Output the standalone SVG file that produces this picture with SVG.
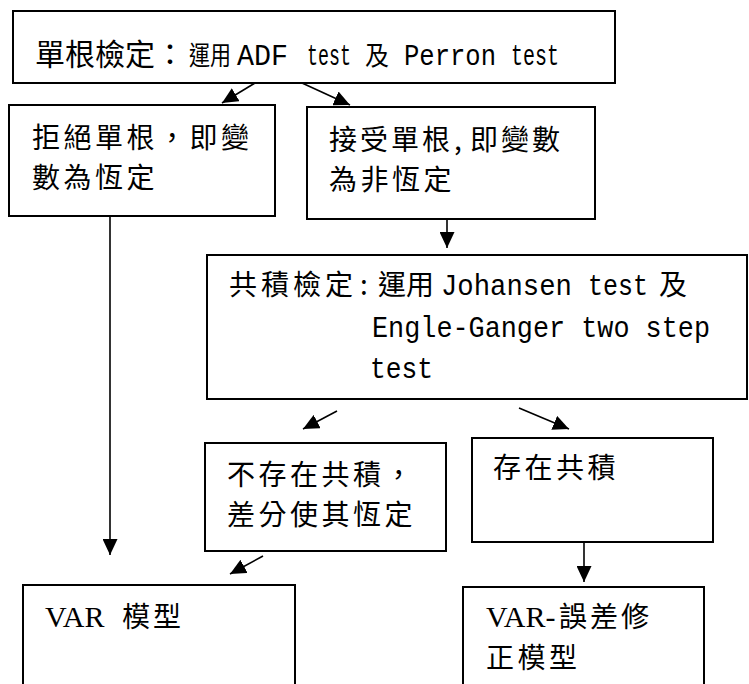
<svg xmlns="http://www.w3.org/2000/svg" width="749" height="684" viewBox="0 0 749 684">
<style>
.box{fill:#fff;stroke:#000;stroke-width:2}
.con line{stroke:#000;stroke-width:1.6}
.cjk{font-family:"Noto Sans CJK TC","Noto Sans CJK SC",sans-serif;font-size:28px;fill:#000}
.lbl{letter-spacing:3.5px}
.mono{font-family:"Liberation Mono","DejaVu Sans Mono",monospace;font-size:29px;fill:#000}
.ser{font-family:"Liberation Serif","Noto Sans CJK TC",serif;font-size:30px;fill:#000}
</style>
<defs>
<marker id="ah" viewBox="0 0 16 15" refX="16" refY="7.5" markerWidth="16" markerHeight="15" markerUnits="userSpaceOnUse" orient="auto">
<path d="M0,0 L16,7.5 L0,15 z" fill="#000"/>
</marker>
</defs>
<g id="n-unitroot">
<rect class="box" x="13" y="11" width="602" height="72"/>
<text class="cjk" y="65"><tspan x="35" font-size="30" textLength="150" lengthAdjust="spacing">單根檢定：</tspan><tspan x="189" font-size="26" textLength="42" lengthAdjust="spacingAndGlyphs">運用</tspan><tspan class="mono" x="237" textLength="51" lengthAdjust="spacingAndGlyphs">ADF</tspan><tspan class="mono" x="307" textLength="44" lengthAdjust="spacingAndGlyphs">test</tspan><tspan x="365" font-size="26" textLength="24" lengthAdjust="spacingAndGlyphs">及</tspan><tspan class="mono" x="404" textLength="92" lengthAdjust="spacingAndGlyphs">Perron</tspan><tspan class="mono" x="511" textLength="48" lengthAdjust="spacingAndGlyphs">test</tspan></text>
</g>
<g id="n-reject">
<rect class="box" x="9" y="105" width="266" height="111"/>
<text class="cjk lbl" x="32" y="148">拒絕單根，即變</text>
<text class="cjk lbl" x="32" y="188">數為恆定</text>
</g>
<g id="n-accept">
<rect class="box" x="307" y="107" width="288" height="112"/>
<text class="cjk" y="150"><tspan x="329" letter-spacing="3">接受單根</tspan><tspan x="454">,</tspan><tspan x="470" letter-spacing="3">即變數</tspan></text>
<text class="cjk lbl" x="329" y="190">為非恆定</text>
</g>
<g id="n-coint">
<rect class="box" x="207" y="255" width="540" height="144"/>
<text class="cjk" y="295"><tspan x="229" textLength="124" lengthAdjust="spacing">共積檢定</tspan><tspan x="360">:</tspan><tspan x="378">運用</tspan><tspan class="mono" x="441" textLength="131" lengthAdjust="spacingAndGlyphs">Johansen</tspan><tspan class="mono" x="588" textLength="60" lengthAdjust="spacingAndGlyphs">test</tspan><tspan x="659">及</tspan></text>
<text class="mono" x="372" y="337" textLength="338" lengthAdjust="spacingAndGlyphs">Engle-Ganger two step</text>
<text class="mono" x="370" y="378" textLength="63" lengthAdjust="spacingAndGlyphs">test</text>
</g>
<g id="n-nocoint">
<rect class="box" x="205" y="443" width="241" height="108"/>
<text class="cjk lbl" x="227" y="485">不存在共積，</text>
<text class="cjk lbl" x="227" y="525">差分使其恆定</text>
</g>
<g id="n-hascoint">
<rect class="box" x="472" y="438" width="241" height="104"/>
<text class="cjk lbl" x="493" y="478">存在共積</text>
</g>
<g id="n-var">
<rect class="box" x="23" y="585" width="272" height="130"/>
<text class="ser" y="627"><tspan x="45">VAR</tspan><tspan class="cjk" x="122" letter-spacing="3">模型</tspan></text>
</g>
<g id="n-vecm">
<rect class="box" x="463" y="587" width="241" height="130"/>
<text class="ser" y="627"><tspan x="486">VAR-</tspan><tspan class="cjk" x="559" letter-spacing="3">誤差修</tspan></text>
<text class="cjk lbl" x="486" y="668">正模型</text>
</g>
<g id="connectors" class="con">
<line x1="255" y1="83" x2="222" y2="103" marker-end="url(#ah)"/>
<line x1="302" y1="83" x2="350" y2="105" marker-end="url(#ah)"/>
<line x1="447" y1="219" x2="447" y2="248" marker-end="url(#ah)"/>
<line x1="110" y1="216" x2="110" y2="555" marker-end="url(#ah)"/>
<line x1="337" y1="411" x2="303" y2="429" marker-end="url(#ah)"/>
<line x1="519" y1="408" x2="569" y2="429" marker-end="url(#ah)"/>
<line x1="263" y1="556" x2="230" y2="574" marker-end="url(#ah)"/>
<line x1="584" y1="543" x2="584" y2="582" marker-end="url(#ah)"/>
</g>
</svg>
